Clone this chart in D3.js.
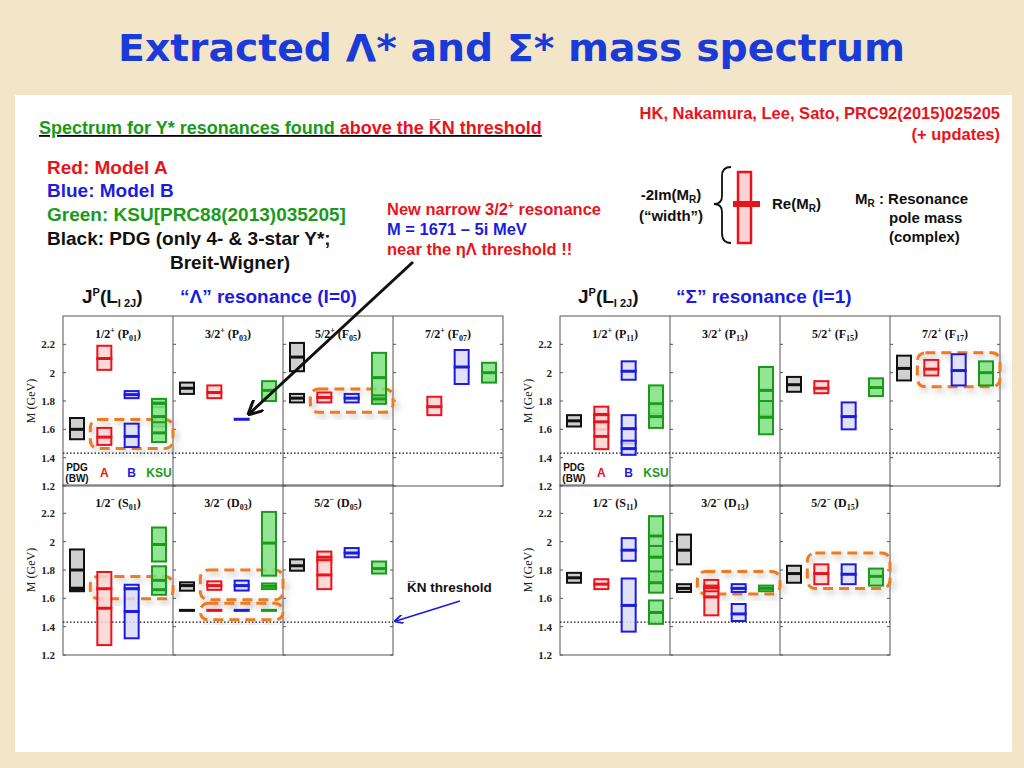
<!DOCTYPE html>
<html><head><meta charset="utf-8">
<script src="https://cdn.jsdelivr.net/npm/d3@7"></script>
<style>body{margin:0;background:#f3e6c8}</style></head>
<body><svg id="c" width="1024" height="768"></svg>
<script>
// ---- data: {col, model, m (Re M_R), lo, hi (GeV)} ----
const models = ["PDG","A","B","KSU"];
const yTicks = [1.2,1.4,1.6,1.8,2,2.2];
const threshold = 1.432;
const lamPosLabels = [["1/2","+","P","01"],["3/2","+","P","03"],["5/2","+","F","05"],["7/2","+","F","07"]];
const lamNegLabels = [["1/2","−","S","01"],["3/2","−","D","03"],["5/2","−","D","05"]];
const sigPosLabels = [["1/2","+","P","11"],["3/2","+","P","13"],["5/2","+","F","15"],["7/2","+","F","17"]];
const sigNegLabels = [["1/2","−","S","11"],["3/2","−","D","13"],["5/2","−","D","15"]];
const lamPos = [
 {col:0,model:"PDG",m:1.60,lo:1.53,hi:1.68},
 {col:0,model:"A",m:2.10,lo:2.02,hi:2.19},{col:0,model:"A",m:1.545,lo:1.49,hi:1.61},
 {col:0,model:"B",m:1.845,lo:1.82,hi:1.87},{col:0,model:"B",m:1.55,lo:1.475,hi:1.64},
 {col:0,model:"KSU",m:1.785,lo:1.756,hi:1.815},{col:0,model:"KSU",m:1.69,lo:1.62,hi:1.78},{col:0,model:"KSU",m:1.575,lo:1.51,hi:1.65},
 {col:1,model:"PDG",m:1.89,lo:1.85,hi:1.93},{col:1,model:"A",m:1.86,lo:1.82,hi:1.91},
 {col:1,model:"B",m:1.671,lo:1.669,hi:1.673},{col:1,model:"KSU",m:1.875,lo:1.80,hi:1.94},
 {col:2,model:"PDG",m:2.11,lo:2.01,hi:2.21},{col:2,model:"PDG",m:1.82,lo:1.79,hi:1.85},
 {col:2,model:"A",m:1.825,lo:1.79,hi:1.86},{col:2,model:"B",m:1.82,lo:1.79,hi:1.85},
 {col:2,model:"KSU",m:1.965,lo:1.80,hi:2.14},{col:2,model:"KSU",m:1.815,lo:1.78,hi:1.84},
 {col:3,model:"A",m:1.76,lo:1.70,hi:1.83},{col:3,model:"B",m:2.04,lo:1.92,hi:2.16},{col:3,model:"KSU",m:2.0,lo:1.93,hi:2.07}
];
const lamNeg = [
 {col:0,model:"PDG",m:1.80,lo:1.65,hi:1.945},{col:0,model:"PDG",m:1.668,lo:1.66,hi:1.675},
 {col:0,model:"A",m:1.53,lo:1.27,hi:1.786},{col:0,model:"A",m:1.668,lo:1.668,hi:1.668},
 {col:0,model:"B",m:1.507,lo:1.318,hi:1.696},{col:0,model:"B",m:1.668,lo:1.668,hi:1.668},
 {col:0,model:"KSU",m:1.98,lo:1.86,hi:2.10},{col:0,model:"KSU",m:1.727,lo:1.625,hi:1.826},{col:0,model:"KSU",m:1.661,lo:1.661,hi:1.661},
 {col:1,model:"PDG",m:1.69,lo:1.654,hi:1.713},{col:1,model:"PDG",m:1.515,lo:1.515,hi:1.515},
 {col:1,model:"A",m:1.69,lo:1.66,hi:1.72},{col:1,model:"A",m:1.515,lo:1.515,hi:1.515},
 {col:1,model:"B",m:1.69,lo:1.655,hi:1.725},{col:1,model:"B",m:1.515,lo:1.515,hi:1.515},
 {col:1,model:"KSU",m:1.99,lo:1.76,hi:2.21},{col:1,model:"KSU",m:1.685,lo:1.665,hi:1.705},{col:1,model:"KSU",m:1.515,lo:1.515,hi:1.515},
 {col:2,model:"PDG",m:1.83,lo:1.795,hi:1.875},{col:2,model:"A",m:1.89,lo:1.86,hi:1.93},{col:2,model:"A",m:1.765,lo:1.665,hi:1.87},
 {col:2,model:"B",m:1.92,lo:1.89,hi:1.955},{col:2,model:"KSU",m:1.81,lo:1.775,hi:1.86}
];
const sigPos = [
 {col:0,model:"PDG",m:1.66,lo:1.62,hi:1.70},
 {col:0,model:"A",m:1.705,lo:1.65,hi:1.76},{col:0,model:"A",m:1.653,lo:1.60,hi:1.70},{col:0,model:"A",m:1.55,lo:1.46,hi:1.65},
 {col:0,model:"B",m:2.01,lo:1.95,hi:2.08},{col:0,model:"B",m:1.605,lo:1.50,hi:1.70},{col:0,model:"B",m:1.464,lo:1.42,hi:1.52},
 {col:0,model:"KSU",m:1.78,lo:1.71,hi:1.91},{col:0,model:"KSU",m:1.69,lo:1.61,hi:1.78},
 {col:1,model:"KSU",m:1.875,lo:1.70,hi:2.04},{col:1,model:"KSU",m:1.685,lo:1.565,hi:1.80},
 {col:2,model:"PDG",m:1.915,lo:1.865,hi:1.97},{col:2,model:"A",m:1.89,lo:1.855,hi:1.94},
 {col:2,model:"B",m:1.69,lo:1.60,hi:1.79},{col:2,model:"KSU",m:1.895,lo:1.835,hi:1.96},
 {col:3,model:"PDG",m:2.03,lo:1.945,hi:2.12},{col:3,model:"A",m:2.025,lo:1.98,hi:2.09},
 {col:3,model:"B",m:2.015,lo:1.91,hi:2.13},{col:3,model:"KSU",m:2.0,lo:1.91,hi:2.08}
];
const sigNeg = [
 {col:0,model:"PDG",m:1.745,lo:1.71,hi:1.78},{col:0,model:"A",m:1.70,lo:1.665,hi:1.735},
 {col:0,model:"B",m:1.94,lo:1.865,hi:2.025},{col:0,model:"B",m:1.55,lo:1.365,hi:1.74},
 {col:0,model:"KSU",m:2.04,lo:1.90,hi:2.18},{col:0,model:"KSU",m:1.89,lo:1.71,hi:1.97},
 {col:0,model:"KSU",m:1.71,lo:1.64,hi:1.79},{col:0,model:"KSU",m:1.50,lo:1.42,hi:1.585},
 {col:1,model:"PDG",m:1.94,lo:1.84,hi:2.05},{col:1,model:"PDG",m:1.67,lo:1.645,hi:1.70},
 {col:1,model:"A",m:1.61,lo:1.48,hi:1.73},{col:1,model:"A",m:1.675,lo:1.65,hi:1.69},
 {col:1,model:"B",m:1.67,lo:1.645,hi:1.70},{col:1,model:"B",m:1.49,lo:1.44,hi:1.56},
 {col:1,model:"KSU",m:1.67,lo:1.65,hi:1.69},
 {col:2,model:"PDG",m:1.775,lo:1.71,hi:1.83},{col:2,model:"A",m:1.775,lo:1.70,hi:1.84},
 {col:2,model:"B",m:1.77,lo:1.70,hi:1.84},{col:2,model:"KSU",m:1.755,lo:1.69,hi:1.81}
];
// highlight groups: col, from/to slot, mass range
const lamPosHi = [{col:0,from:"A",to:"KSU",lo:1.465,hi:1.67},{col:2,from:"A",to:"KSU",lo:1.72,hi:1.885}];
const lamNegHi = [{col:0,from:"A",to:"KSU",lo:1.597,hi:1.755},{col:1,from:"A",to:"KSU",lo:1.59,hi:1.80},{col:1,from:"A",to:"KSU",lo:1.448,hi:1.566}];
const sigPosHi = [{col:3,from:"A",to:"KSU",lo:1.90,hi:2.14}];
const sigNegHi = [{col:1,from:"A",to:"KSU",lo:1.63,hi:1.79},{col:2,from:"A",to:"KSU",lo:1.67,hi:1.92}];

const stroke = {PDG:"#111",A:"#e8141b",B:"#1c1ce0",KSU:"#1a9a1a"};
const fill = {PDG:"#c8c8c8",A:"#fbd3d3",B:"#dcdcf6",KSU:"#7fe07f"};

const svg = d3.select("#c");
const defs = svg.append("defs");
defs.append("filter").attr("id","sh").attr("x","-20%").attr("y","-30%").attr("width","140%").attr("height","160%")
 .append("feDropShadow").attr("dx",3).attr("dy",3).attr("stdDeviation",3).attr("flood-color","#777").attr("flood-opacity",0.6);
svg.append("rect").attr("x",15).attr("y",95).attr("width",997).attr("height",657).attr("fill","#fff");
svg.append("text").attr("x",118).attr("y",61).attr("textLength",787).attr("lengthAdjust","spacingAndGlyphs").attr("font-family","DejaVu Sans, Verdana").attr("font-weight","bold").attr("font-size",37).attr("fill","#1b3bd8").text("Extracted Λ* and Σ* mass spectrum");

function panel(x0, yBottom, data, labels, his, ncols, fullThr, legend){
  const y = d3.scaleLinear().domain([1.2,2.4]).range([yBottom, yBottom-170]);
  const xc = d3.scaleBand().domain(d3.range(4)).range([x0, x0+440]);
  const xs = d3.scalePoint().domain(models).range([14,96]);
  const X = (c,m)=>xc(c)+xs(m);
  const g = svg.append("g");
  const w = ncols*110;
  g.append("rect").attr("x",x0).attr("y",y(2.4)).attr("width",w).attr("height",170).attr("fill","none").attr("stroke","#555").attr("stroke-width",1);
  for(let c=1;c<ncols;c++) g.append("line").attr("x1",xc(c)).attr("x2",xc(c)).attr("y1",y(2.4)).attr("y2",yBottom).attr("stroke","#555");
  const ax = g.append("g").attr("transform",`translate(${x0},0)`).call(d3.axisLeft(y).tickValues(yTicks).tickSize(0).tickPadding(8).tickFormat(d=>d===2?"2":d3.format(".1f")(d)));
  ax.select(".domain").remove();
  ax.selectAll("text").attr("font-family","Liberation Serif, Times").attr("font-weight","bold").attr("font-size",11).attr("fill","#222");
  for(let c=0;c<=ncols;c++) yTicks.forEach(t=>{ g.append("line").attr("x1",xc(c)||x0+w).attr("x2",(xc(c)||x0+w)+ (c===ncols?-3:3)).attr("y1",y(t)).attr("y2",y(t)).attr("stroke","#555");});
  g.append("text").attr("transform",`translate(${x0-28},${y(1.8)}) rotate(-90)`).attr("text-anchor","middle").attr("font-family","Liberation Serif, Times").attr("font-size",12).attr("fill","#222").text("M (GeV)");
  g.append("line").attr("x1",x0).attr("x2",x0+(fullThr?440:w)).attr("y1",y(threshold)).attr("y2",y(threshold)).attr("stroke","#111").attr("stroke-width",1.3).attr("stroke-dasharray","1.5,2");
  labels.forEach((l,i)=>{
    const t=g.append("text").attr("x",xc(i)+55).attr("y",y(2.4)+22).attr("text-anchor","middle").attr("font-family","Liberation Serif, Times").attr("font-size",12).attr("font-weight","bold").attr("fill","#111");
    t.append("tspan").text(l[0]);
    t.append("tspan").attr("dy",-5).attr("font-size",8).text(l[1]);
    t.append("tspan").attr("dy",5).text(" ("+l[2]);
    t.append("tspan").attr("dy",3).attr("font-size",8).text(l[3]);
    t.append("tspan").attr("dy",-3).text(")");
  });
  his.forEach(h=>{
    g.append("rect").attr("x",X(h.col,h.from)-14).attr("y",y(h.hi)).attr("width",X(h.col,h.to)-X(h.col,h.from)+28).attr("height",y(h.lo)-y(h.hi)).attr("rx",8)
     .attr("fill","none").attr("stroke","#f07a1a").attr("stroke-width",3).attr("stroke-dasharray","10,6").attr("filter","url(#sh)");
  });
  const bw=14;
  data.forEach(d=>{
    const cx=X(d.col,d.model);
    if(d.hi-d.lo>0.005){
      g.append("rect").attr("x",cx-bw/2).attr("y",y(d.hi)).attr("width",bw).attr("height",y(d.lo)-y(d.hi)).attr("fill",fill[d.model]).attr("fill-opacity",0.85).attr("stroke",stroke[d.model]).attr("stroke-width",2);
    }
    g.append("line").attr("x1",cx-bw/2-1).attr("x2",cx+bw/2+1).attr("y1",y(d.m)).attr("y2",y(d.m)).attr("stroke",stroke[d.model]).attr("stroke-width",3);
  });
  if(legend){
    const ly=y(1.28);
    const lt=g.append("text").attr("x",X(0,"PDG")).attr("y",ly-4).attr("text-anchor","middle").attr("font-family","Liberation Sans, Arial").attr("font-size",10).attr("font-weight","bold").attr("fill","#111");
    lt.append("tspan").attr("x",X(0,"PDG")).text("PDG");
    lt.append("tspan").attr("x",X(0,"PDG")).attr("dy",11).text("(BW)");
    ["A","B","KSU"].forEach(m=>g.append("text").attr("x",X(0,m)).attr("y",ly+2).attr("text-anchor","middle").attr("font-family","Liberation Sans, Arial").attr("font-size",12).attr("font-weight","bold").attr("fill",stroke[m]).text(m));
  }
}
panel(63,486,lamPos,lamPosLabels,lamPosHi,4,true,true);
panel(63,655,lamNeg,lamNegLabels,lamNegHi,3,false,false);
panel(560,486,sigPos,sigPosLabels,sigPosHi,4,true,true);
panel(560,655,sigNeg,sigNegLabels,sigNegHi,3,false,false);

const F="Liberation Sans, Arial";
function txt(x,y,s,col,size,anchor){return svg.append("text").attr("x",x).attr("y",y).attr("font-family",F).attr("font-weight","bold").attr("font-size",size).attr("fill",col).attr("text-anchor",anchor||"start").text(s);}
const st=svg.append("text").attr("x",39).attr("y",134).attr("font-family",F).attr("font-weight","bold").attr("font-size",18).attr("text-decoration","underline");
st.append("tspan").attr("fill","#1a9a1a").text("Spectrum for Y* resonances found ");
st.append("tspan").attr("fill","#e8141b").text("above the K̅N threshold");
txt(47,174,"Red: Model A","#e8141b",19);
txt(47,197,"Blue: Model B","#1c1ce0",19);
txt(47,221,"Green: KSU[PRC88(2013)035205]","#1a9a1a",19);
txt(47,245,"Black: PDG (only 4- & 3-star Y*;","#111",19);
txt(170,269,"Breit-Wigner)","#111",19);
const nn=txt(387,215,"New narrow 3/2","#e8141b",16.5); nn.append("tspan").attr("dy",-6).attr("font-size",10).text("+"); nn.append("tspan").attr("dy",6).text(" resonance");
txt(387,235,"M  = 1671 – 5i MeV","#1c1ce0",16.5);
txt(387,255,"near the ηΛ threshold !!","#e8141b",16.5);
function jp(x){const t=txt(x,303,"J","#111",19);t.append("tspan").attr("dy",-7).attr("font-size",11).text("P");t.append("tspan").attr("dy",7).text("(L");t.append("tspan").attr("dy",4).attr("font-size",11).text("I 2J");t.append("tspan").attr("dy",-4).text(")");}
jp(82); jp(578);
txt(180,303,"“Λ” resonance (I=0)","#1c1ce0",19);
txt(676,303,"“Σ” resonance (I=1)","#1c1ce0",19);
txt(1000,119,"HK, Nakamura, Lee, Sato, PRC92(2015)025205","#e8141b",16.5,"end");
txt(1000,140,"(+ updates)","#e8141b",16.5,"end");
const im=txt(671,200,"-2Im(M","#111",15,"middle"); im.append("tspan").attr("dy",3).attr("font-size",10).text("R"); im.append("tspan").attr("dy",-3).text(")");
txt(671,221,"(“width”)","#111",15,"middle");
const re=txt(772,209,"Re(M","#111",15); re.append("tspan").attr("dy",3).attr("font-size",10).text("R"); re.append("tspan").attr("dy",-3).text(")");
const mr=txt(855,204,"M","#111",15); mr.append("tspan").attr("dy",3).attr("font-size",10).text("R"); mr.append("tspan").attr("dy",-3).text(" : Resonance");
txt(889,223,"pole mass","#111",15);
txt(889,242,"(complex)","#111",15);
svg.append("rect").attr("x",738).attr("y",172).attr("width",13).attr("height",71).attr("fill","#fbd3d3").attr("stroke","#e8141b").attr("stroke-width",2.5);
svg.append("line").attr("x1",733).attr("x2",760).attr("y1",204).attr("y2",204).attr("stroke","#e8141b").attr("stroke-width",6);
svg.append("path").attr("d","M731,167 Q722,167 722,176 L722,196 Q722,204 714,204 Q722,204 722,212 L722,233 Q722,243 731,243").attr("fill","none").attr("stroke","#111").attr("stroke-width",1.8);
defs.append("marker").attr("id","ak").attr("viewBox","0 0 10 10").attr("refX",8).attr("refY",5).attr("markerWidth",5).attr("markerHeight",5).attr("orient","auto").append("path").attr("d","M0,0 L10,5 L0,10").attr("fill","none").attr("stroke","#111").attr("stroke-width",2);
defs.append("marker").attr("id","ab").attr("viewBox","0 0 10 10").attr("refX",8).attr("refY",5).attr("markerWidth",5).attr("markerHeight",5).attr("orient","auto").append("path").attr("d","M0,0 L10,5 L0,10").attr("fill","none").attr("stroke","#1c1ce0").attr("stroke-width",2);
svg.append("line").attr("x1",413).attr("y1",262).attr("x2",250).attr("y2",413).attr("stroke","#111").attr("stroke-width",3).attr("marker-end","url(#ak)");
txt(407,592,"K̅N threshold","#111",13.5);
svg.append("line").attr("x1",460).attr("y1",601).attr("x2",396).attr("y2",621).attr("stroke","#1c1ce0").attr("stroke-width",1.8).attr("marker-end","url(#ab)");
</script></body></html>
